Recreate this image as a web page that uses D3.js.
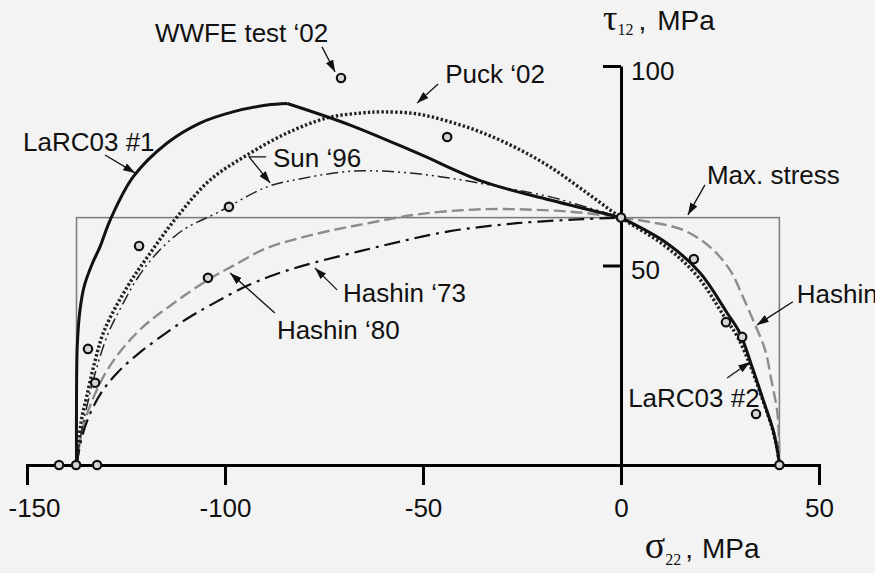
<!DOCTYPE html>
<html>
<head>
<meta charset="utf-8">
<script src="https://cdn.jsdelivr.net/npm/d3@7"></script>
<style>
  body { margin: 0; background: #f3f3f3; }
  text { font-family: "Liberation Sans", Arial, Helvetica, sans-serif; fill: #111; }
</style>
</head>
<body>
<div id="chart"></div>
<script>
// failure envelopes, points are [sigma22, tau12] in MPa
var larc1 = [[-137.5,0],[-137.5,16],[-137.3,30],[-136.6,39],[-135.5,45],[-133.5,50.5],[-131.6,54.6],[-129,61.4],
  [-123.2,72.2],[-114.6,80.7],[-106.3,85.7],[-98,88.5],[-89.4,90.2],[-84.3,90.6]];
var larc1b = [[-84.3,90.6],[-68.4,85.2],[-51.5,78.2],[-34.8,71],[-17.9,66.4],[0,62]];
var larc2 = [[0,62],[11.6,55.6],[20,48.1],[26.8,38.1],[30,33.1],[33.1,24.6],[35.9,16.3],[38.4,8.8],[39.6,3],[40,0]];
var puck = [[-137.5,0],[-136.3,11],[-135,16.8],[-133,25.4],[-130.5,33.7],[-124.7,44.6],[-118.9,53.1],[-112.1,62.2],
  [-103.8,71.4],[-94.4,77.7],[-84.3,83.2],[-74.2,87],[-65.9,88.2],[-60.1,88.5],[-51.5,88],[-43.2,86],[-34.8,83.2],
  [-26.3,79.4],[-17.9,74.7],[-9.6,68.9],[0,62],[11,55],[19.3,47.3],[26,37.3],[29.5,32],[33,24],[35.9,16],[38.4,8.5],[39.6,3],[40,0]];
var sun = [[-137.5,0],[-136.5,7],[-134.8,15],[-132.5,24],[-129.5,33],[-126,40],[-122,47],[-117.2,53.1],[-110.6,58.9],
  [-102,63.2],[-89.4,69.7],[-81.1,71.7],[-68.4,73.6],[-55.8,73.4],[-43.2,71.9],[-30.6,69.7],[-17.9,67.2],[0,62]];
var hashin80 = [[-137.5,0],[-136.2,8],[-134,15],[-130.5,22.5],[-126,29],[-120.5,34.8],[-114,39.8],[-104.3,46.4],
  [-98,49.9],[-89.4,54.4],[-81,56.9],[-72.7,58.9],[-65.9,60.2],[-51.5,62.8],[-34.8,64.1],[-17.9,63.8],[-9.6,63.2],[0,62],
  [7.3,60.9],[15.7,58.9],[22.5,54.6],[27.5,48.9],[30.8,42.1],[33.5,36],[36.4,28.8],[38.1,20.6],[39.4,13.8],[39.9,6.3],[40,0]];
var hashin73 = [[-137.5,0],[-136,7.5],[-134,13],[-131,18.5],[-127,23.3],[-122,27.8],[-116,32.3],[-110,36.4],[-104,39.9],
  [-94,45.1],[-85.4,48.4],[-76.8,50.9],[-65.9,53.6],[-55.8,56],[-43.2,58.6],[-26.3,60.6],[-9.6,61.6],[0,62]];

// max stress box: Yc, Yt, S
var maxStress = {yc: -137.5, yt: 40, s: 62};

// WWFE test data
var testSigma = [-141.9, -137.6, -132.3, -134.6, -132.8, -121.7, -104.3, -99, -70.7, -43.9, 0, 18.4, 26.5, 30.6, 34.1, 40];
var testTau   = [0, 0, 0, 29.1, 20.6, 54.9, 46.9, 64.7, 97, 82.2, 62, 51.6, 35.8, 32.1, 12.8, 0];

var xTicks = [-150, -100, -50, 0, 50];
var yTicks = [50, 100];

// labels: text, anchor point and arrow (all in data units)
var labels = [
  {t: "WWFE test \u201802", at: [-117.7, 106],  arrow: [[-75.5, 104.8], [-72.2, 98.5]]},
  {t: "LaRC03 #1",          at: [-151, 78.7],   arrow: [[-130.3, 77.7], [-122.7, 73.2]]},
  {t: "Puck \u201802",      at: [-44.4, 95.7],  arrow: [[-46.2, 95.5], [-51.5, 90.7]]},
  {t: "Sun \u201896",       at: [-87.9, 74.7],  arrow: [[-89.6, 77.2], [-93.9, 77.2], [-88.6, 70.7]]},
  {t: "Max. stress",        at: [21.7, 70.4],   arrow: [[21.2, 70.2], [16.9, 62.7]]},
  {t: "Hashin \u201873",    at: [-70.2, 40.9],  arrow: [[-71.7, 43.9], [-77.3, 49.4]]},
  {t: "Hashin \u201880",    at: [-86.9, 31.6],  arrow: [[-87.4, 38.1], [-98.7, 48.1]]},
  {t: "Hashin",             at: [44.4, 40.6],   arrow: [[43.4, 40.9], [34.3, 35.1]]},
  {t: "LaRC03 #2",          at: [1.8, 14.5],    arrow: [[26.8, 21.8], [32.6, 25.8]]}
];

var width = 875, height = 573;

var x = d3.scaleLinear().domain([-150, 50]).range([27, 819]);
var y = d3.scaleLinear().domain([0, 100]).range([465, 66]);

var svg = d3.select("#chart").append("svg")
  .attr("width", width)
  .attr("height", height);

svg.append("rect").attr("width", width).attr("height", height).attr("fill", "#f3f3f3");

svg.append("defs").append("marker")
  .attr("id", "arr")
  .attr("markerUnits", "userSpaceOnUse")
  .attr("markerWidth", 12).attr("markerHeight", 8)
  .attr("refX", 12).attr("refY", 4)
  .attr("orient", "auto")
  .append("path").attr("d", "M0,0L12,4L0,8z").attr("fill", "#111");

// max stress rectangle
svg.append("rect")
  .attr("x", x(maxStress.yc))
  .attr("y", y(maxStress.s))
  .attr("width", x(maxStress.yt) - x(maxStress.yc))
  .attr("height", y(0) - y(maxStress.s))
  .attr("fill", "none")
  .attr("stroke", "#7a7a7a")
  .attr("stroke-width", 1.5);

var line = d3.line()
  .x(function(d) { return x(d[0]); })
  .y(function(d) { return y(d[1]); })
  .curve(d3.curveCatmullRom.alpha(0.5));

function curve(data, stroke, w, dash) {
  svg.append("path")
    .datum(data)
    .attr("fill", "none")
    .attr("stroke", stroke)
    .attr("stroke-width", w)
    .attr("stroke-dasharray", dash)
    .attr("d", line);
}

curve(hashin80, "#8c8c8c", 2.4, "12,5");
curve(hashin73, "#111", 2.2, "16,6,3,6");
curve(sun, "#222", 1.5, "12,4,2,4,2,4");
curve(puck, "#222", 3.4, "2.4,2.2");
curve(larc1, "#111", 3, null);
curve(larc1b, "#111", 3, null);
curve(larc2, "#111", 3, null);

// axes
var xAxis = svg.append("g")
  .attr("transform", "translate(0," + y(0) + ")")
  .call(d3.axisBottom(x).tickValues(xTicks).tickSize(20).tickPadding(14)
    .tickFormat(function(d) { return String(d); }));
xAxis.select(".domain").attr("stroke", "#000").attr("stroke-width", 3);
xAxis.selectAll(".tick line").attr("stroke", "#000").attr("stroke-width", 3);
xAxis.selectAll(".tick text").attr("font-size", 26).attr("font-family", null).attr("fill", "#111")
  .attr("dx", function(d, i) { return i === 0 ? 7 : 0; });

var yAxis = svg.append("g")
  .attr("transform", "translate(" + x(0) + ",0)")
  .call(d3.axisLeft(y).tickValues(yTicks).tickSize(18).tickSizeOuter(0));
yAxis.select(".domain").attr("stroke", "#000").attr("stroke-width", 3);
yAxis.selectAll(".tick line").attr("stroke", "#000").attr("stroke-width", 3);
yAxis.selectAll(".tick text")
  .attr("x", 10).attr("dy", "0.5em")
  .attr("text-anchor", "start")
  .attr("font-size", 26).attr("font-family", null).attr("fill", "#111");

// test points
svg.append("g").selectAll("circle")
  .data(testSigma)
  .enter().append("circle")
    .attr("cx", function(d) { return x(d); })
    .attr("cy", function(d, i) { return y(testTau[i]); })
    .attr("r", 4.2)
    .attr("fill", "#d4d4d4")
    .attr("stroke", "#111")
    .attr("stroke-width", 2.2);

// annotations
var ann = svg.append("g");
labels.forEach(function(l) {
  ann.append("text")
    .attr("x", x(l.at[0]))
    .attr("y", y(l.at[1]))
    .attr("font-size", 26)
    .text(l.t);
  ann.append("path")
    .attr("d", d3.line().x(function(d) { return x(d[0]); }).y(function(d) { return y(d[1]); })(l.arrow))
    .attr("fill", "none")
    .attr("stroke", "#111")
    .attr("stroke-width", 1.3)
    .attr("marker-end", "url(#arr)");
});

// axis titles
var serif = "'Liberation Serif', 'Times New Roman', serif";
var tLab = svg.append("text").attr("x", x(0) - 18).attr("y", y(100) - 36);
tLab.append("tspan").attr("font-family", serif).attr("font-size", 36).text("\u03C4");
tLab.append("tspan").attr("font-family", serif).attr("font-size", 16).attr("dy", 5).text("12");
tLab.append("tspan").attr("font-size", 28).attr("dy", -5).attr("dx", 5).text(",");
tLab.append("tspan").attr("font-size", 28).attr("dx", 11).text("MPa");

var sLab = svg.append("text").attr("x", x(6)).attr("y", y(0) + 93);
sLab.append("tspan").attr("font-family", serif).attr("font-size", 38).text("\u03C3");
sLab.append("tspan").attr("font-family", serif).attr("font-size", 16).attr("dy", 7).text("22");
sLab.append("tspan").attr("font-size", 28).attr("dy", -7).attr("dx", 4).text(",");
sLab.append("tspan").attr("font-size", 28).attr("dx", 9).text("MPa");
</script>
</body>
</html>
